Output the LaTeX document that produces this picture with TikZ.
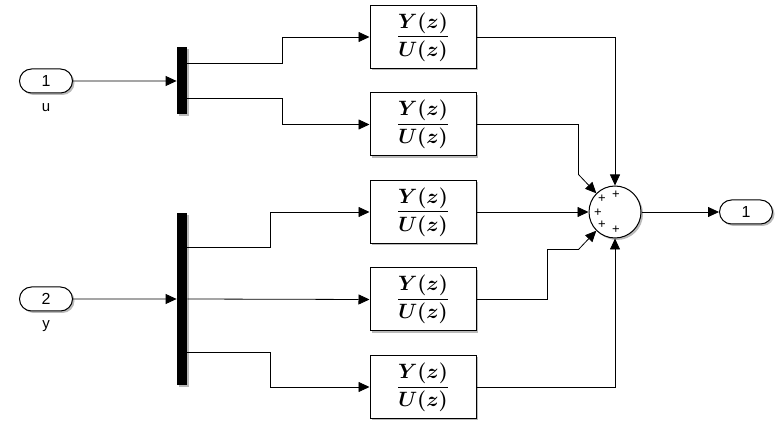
\documentclass[tikz,border=0pt]{standalone}
\usepackage{amsmath}
\usepackage{amssymb}
\usepackage{fontspec}
\newfontfamily\portfont{Liberation Sans}
\usetikzlibrary{ % tikz packages
    positioning,calc,shadows,shapes.misc,
    arrows.meta
}
\tikzset{>={Triangle[length=11pt,width=10pt]}}
\tikzset{blockshadow/.style={
    drop shadow={shadow xshift=2pt,shadow yshift=-2pt,fill=black!45,opacity=.6}
}}
\newcommand{\tfYU}{\(\displaystyle\frac{\boldsymbol{Y(z)}}{\boldsymbol{U(z)}}\)}

\begin{document}
\begin{tikzpicture}[x=1pt,y=-1pt,node distance=87.5pt,on grid,line width=0.8pt,
        tfblock/.style={draw,line width=1pt,fill=white,blockshadow,inner sep=0pt,
            minimum width=106pt,minimum height=63pt,font=\fontsize{20}{24}\selectfont},
        port/.style={rounded rectangle,draw,line width=1pt,fill=white,blockshadow,
            minimum width=53pt,minimum height=24pt,inner sep=0pt,
            font=\portfont\fontsize{16}{16}\selectfont},
        portlabel/.style={font=\portfont\fontsize{15}{15}\selectfont,inner sep=0pt},
        demux/.style={fill=black,blockshadow,minimum width=10pt,inner sep=0pt},
        sumblock/.style={circle,draw,line width=1pt,fill=white,blockshadow,
            minimum size=52pt,inner sep=0pt}]
        \useasboundingbox (0,0) rectangle (782,427);

        \node[tfblock] (tf1) at (423,37) {\tfYU};
        \node[tfblock] (tf2) [below=of tf1] {\tfYU};
        \node[tfblock] (tf3) [below=of tf2] {\tfYU};
        \node[tfblock] (tf4) [below=of tf3] {\tfYU};
        \node[tfblock] (tf5) [below=of tf4] {\tfYU};

        \node[demux,minimum height=67pt] (demA) at (182,81) {};
        \node[demux,minimum height=172pt] (demB) at (182,299) {};

        \node[port] (in1) at (46,81) {1};
        \node[portlabel] (ulab) [below=27pt of in1] {u};
        \node[port] (in2) at (46,299) {2};
        \node[portlabel] (ylab) [below=27pt of in2] {y};

        \node[sumblock] (sum) [right=192pt of tf3] {};
        \node[port] (out1) [right=131pt of sum] {1};

        \foreach \dx/\dy [count=\i] in {-13/-13,1/-17,-17/1,-13/13,1/18}
            \node[font=\portfont\fontsize{13}{13}\selectfont,inner sep=0pt] (p\i)
                at ($(sum)+(\dx,\dy)$) {+};

        % inputs to the demuxes
        \draw[->] (in1) -- (demA);
        \draw[->] (in2) -- (demB);

        % demux outputs
        \draw[->] ($(demA.east)+(0,-18)$) -- ++(95,0) |- (tf1.west);
        \draw[->] ($(demA.east)+(0,17)$) -- ++(95,0) |- (tf2.west);
        \draw[->] ($(demB.east)+(0,-52)$) -- ++(83,0) |- (tf3.west);
        \draw[->] (demB.east) -- (tf4.west);
        \draw[->] ($(demB.east)+(0,53)$) -- ++(83,0) |- (tf5.west);

        % into the sum
        \draw[->] (tf1.east) -| (sum.north);
        \draw[->] (tf2.east) -| ++(102,50) -- (sum.135);
        \draw[->] (tf3.east) -- (sum.west);
        \draw[->] (tf4.east) -- ++(71,0) |- ++(31,-50) -- (sum.225);
        \draw[->] (tf5.east) -| (sum.south);

        \draw[->] (sum) -- (out1);
    \end{tikzpicture}
\end{document}
